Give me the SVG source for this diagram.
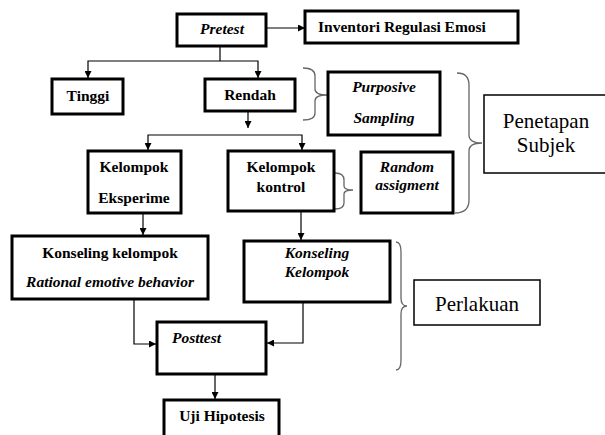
<svg xmlns="http://www.w3.org/2000/svg" width="605" height="435" viewBox="0 0 605 435">
<style>
.box{fill:#fff;stroke:#000;stroke-width:3}
.thin{fill:#fff;stroke:#000;stroke-width:1.5}
text{font-family:'Liberation Serif','Times New Roman',Tinos,'DejaVu Serif',serif;fill:#000}
.b{font-weight:bold;font-size:15.5px}
.bi{font-weight:bold;font-style:italic;font-size:15.5px}
.r{font-size:21px}
.c{text-anchor:middle}
.ln{fill:none;stroke:#000;stroke-width:1.2}
.br{fill:none;stroke:#666;stroke-width:1.3}
</style>
<defs>
<marker id="ah" viewBox="0 0 8 8" refX="8" refY="4" markerWidth="7" markerHeight="7" markerUnits="userSpaceOnUse" orient="auto">
<path d="M0,0 L8,4 L0,8 z" fill="#000"/>
</marker>
</defs>
<rect width="605" height="435" fill="#fff"/>
<g id="connectors">
<path class="ln" d="M266,28 H305" marker-end="url(#ah)"/>
<path class="ln" d="M220,46 V61"/>
<path class="ln" d="M220,61 H88 V78" marker-end="url(#ah)"/>
<path class="ln" d="M220,61 H258 V78" marker-end="url(#ah)"/>
<path class="ln" d="M248,111 V128" marker-end="url(#ah)"/>
<path class="ln" d="M225,135 H148 V150" marker-end="url(#ah)"/>
<path class="ln" d="M225,135 H302 V150" marker-end="url(#ah)"/>
<path class="ln" d="M143,213 V235" marker-end="url(#ah)"/>
<path class="ln" d="M301,211 V240" marker-end="url(#ah)"/>
<path class="ln" d="M134,299 V344 H156" marker-end="url(#ah)"/>
<path class="ln" d="M303,302 V343 H267" marker-end="url(#ah)"/>
<path class="ln" d="M215,372 V399" marker-end="url(#ah)"/>
</g>
<g id="braces">
<path class="br" d="M303,68 Q315,68 315,76 L315,89 Q315,95 327,95 Q315,95 315,101 L315,113 Q315,120 303,120"/>
<path class="br" d="M457,73 Q469,73 469,85 L469,135 Q469,143 482,143 Q469,143 469,151 L469,200 Q469,213 455,213"/>
<path class="br" d="M335,173 Q344,173 344,180 L344,186 Q344,190 353,190 Q344,190 344,194 L344,203 Q344,209 335,209"/>
<path class="br" d="M396,242 Q401,242 401,252 L401,298 Q401,306 407,306 Q401,306 401,314 L401,360 Q401,370 396,370"/>
</g>
<g id="pretest"><rect class="box" x="177" y="14" width="89" height="32"/><text class="bi c" x="222" y="34" font-family="Liberation Serif">Pretest</text></g>
<g id="inventori"><rect class="box" x="305" y="11" width="213" height="32"/><text class="b" x="318" y="32">Inventori Regulasi Emosi</text></g>
<g id="tinggi"><rect class="box" x="52" y="79" width="71" height="35"/><text class="b c" x="88" y="101">Tinggi</text></g>
<g id="rendah"><rect class="box" x="205" y="79" width="90" height="32"/><text class="b c" x="250" y="100">Rendah</text></g>
<g id="purposive"><rect class="box" x="328" y="72" width="112" height="63"/><text class="bi c" x="384" y="92">Purposive</text><text class="bi c" x="384" y="123">Sampling</text></g>
<g id="penetapan"><rect class="thin" x="484" y="95" width="125" height="78"/><text class="r c" x="546" y="128">Penetapan</text><text class="r c" x="546" y="152">Subjek</text></g>
<g id="eksperimen"><rect class="box" x="88" y="151" width="93" height="62"/><text class="b c" x="134" y="172">Kelompok</text><text class="b c" x="134" y="203">Eksperime</text></g>
<g id="kontrol"><rect class="box" x="228" y="151" width="106" height="60"/><text class="b c" x="281" y="172">Kelompok</text><text class="b c" x="281" y="192">kontrol</text></g>
<g id="random"><rect class="box" x="361" y="152" width="92" height="61"/><text class="bi c" x="407" y="172">Random</text><text class="bi c" x="407" y="190">assigment</text></g>
<g id="konseling-reb"><rect class="box" x="12" y="236" width="196" height="63"/><text class="b c" x="110" y="258">Konseling kelompok</text><text class="bi c" x="110" y="287">Rational emotive behavior</text></g>
<g id="konseling-kelompok"><rect class="box" x="244" y="241" width="146" height="61"/><text class="bi c" x="317" y="258">Konseling</text><text class="bi c" x="317" y="277">Kelompok</text></g>
<g id="perlakuan"><rect class="thin" x="414" y="280" width="126" height="45"/><text class="r c" x="477" y="311">Perlakuan</text></g>
<g id="posttest"><rect class="box" x="157" y="322" width="109" height="52"/><text class="bi" x="172" y="343">Posttest</text></g>
<g id="uji"><rect class="box" x="164" y="400" width="115" height="45"/><text class="b c" x="222" y="421">Uji Hipotesis</text></g>
</svg>
